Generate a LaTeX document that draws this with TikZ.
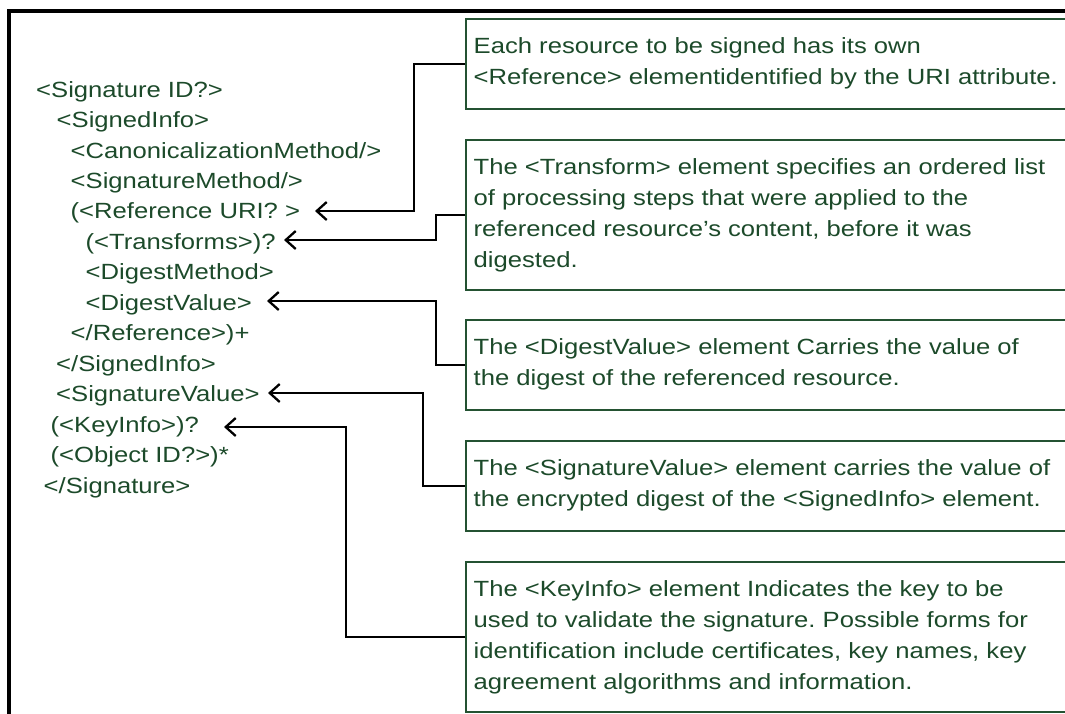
\documentclass[tikz,border=0pt]{standalone}
\usepackage{fontspec}
\newfontfamily\diagfont[FakeStretch=1.165]{Liberation Sans}
\usetikzlibrary{arrows.meta}
\definecolor{txtgreen}{RGB}{28,74,42}
\definecolor{boxgreen}{RGB}{36,82,50}
\frenchspacing
\begin{document}
\begin{tikzpicture}[x=1pt,y=1pt,
  xml/.style={font=\diagfont\fontsize{22}{31}\selectfont, text=txtgreen, inner sep=0pt, anchor=base west},
  notebox/.style={draw=boxgreen, line width=2pt, fill=white, minimum width=720pt, anchor=north west, inner sep=0pt},
  notetext/.style={font=\diagfont\frenchspacing\fontsize{22}{31}\selectfont, text=txtgreen, align=left, inner sep=0pt, anchor=north west},
  conn/.style={draw=black, line width=2.3pt, -{Straight Barb[length=10pt,width=18pt]}}]
\useasboundingbox (0,0) rectangle (1065,-713);
\clip (0,0) rectangle (1065,-713);
% outer frame
\draw[line width=4pt] (8.5,-730) -- (8.5,-11) -- (1090,-11);
% XML listing
\node[xml] (l1)  at (36,-97)    {<Signature ID?>};
\node[xml] (l2)  at (56.5,-127.5) {<SignedInfo>};
\node[xml] (l3)  at (70.5,-158)   {<CanonicalizationMethod/>};
\node[xml] (l4)  at (70.5,-188.4) {<SignatureMethod/>};
\node[xml] (l5)  at (70.5,-218.8) {(<Reference URI? >};
\node[xml] (l6)  at (85.5,-249.3) {(<Transforms>)?};
\node[xml] (l7)  at (85.5,-279.8) {<DigestMethod>};
\node[xml] (l8)  at (85.5,-310.2) {<DigestValue>};
\node[xml] (l9)  at (70.5,-340.7) {</Reference>)+};
\node[xml] (l10) at (56,-371.2)   {</SignedInfo>};
\node[xml] (l11) at (56,-401.6)   {<SignatureValue>};
\node[xml] (l12) at (50.5,-432.1) {(<KeyInfo>)?};
\node[xml] (l13) at (50.5,-462.5) {(<Object ID?>)*};
\node[xml] (l14) at (43.5,-493)   {</Signature>};
% note boxes
\node[notebox, minimum height=90pt]  (b1) at (465,-18)  {};
\node[notebox, minimum height=150pt] (b2) at (465,-139) {};
\node[notebox, minimum height=90pt]  (b3) at (465,-319) {};
\node[notebox, minimum height=90pt]  (b4) at (465,-440) {};
\node[notebox, minimum height=150pt] (b5) at (465,-561) {};
\node[notetext] (n1) at (473.5,-33.5) {\rule{0pt}{20pt}Each resource to be signed has its own\\<Reference> elementidentified by the URI attribute.};
\node[notetext] (n2) at (473.5,-154.5) {\rule{0pt}{20pt}The <Transform> element specifies an ordered list\\of processing steps that were applied to the\\referenced resource’s content, before it was\\digested.};
\node[notetext] (n3) at (473.5,-334.5) {\rule{0pt}{20pt}The <DigestValue> element Carries the value of\\the digest of the referenced resource.};
\node[notetext] (n4) at (473.5,-455.5) {\rule{0pt}{20pt}The <SignatureValue> element carries the value of\\the encrypted digest of the <SignedInfo> element.};
\node[notetext] (n5) at (473.5,-576.5) {\rule{0pt}{20pt}The <KeyInfo> element Indicates the key to be\\used to validate the signature. Possible forms for\\identification include certificates, key names, key\\agreement algorithms and information.};
% arrow targets
\coordinate (t1) at (315,-211);
\coordinate (t2) at (284,-240);
\coordinate (t3) at (267,-301);
\coordinate (t4) at (268,-393);
\coordinate (t5) at (224,-427);
% connectors
\draw[conn] (b1.west) -- ++(-51,0) |- (t1);
\draw[conn] (b2.west) -- ++(-29,0) |- (t2);
\draw[conn] (b3.west) -- ++(-29,0) |- (t3);
\draw[conn] (b4.west) -- ++(-42,0) |- (t4);
\draw[conn] (b5.west) -- ++(-119,0) |- (t5);
\end{tikzpicture}
\end{document}
